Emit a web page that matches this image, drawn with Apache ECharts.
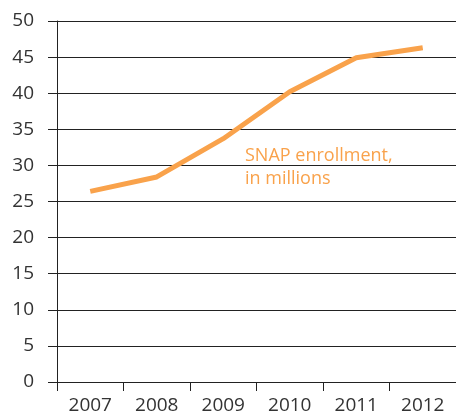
<!DOCTYPE html>
<html>
<head>
    <meta charset="utf-8">
    <title>SNAP enrollment</title>
    <script src="https://cdn.jsdelivr.net/npm/echarts@6/dist/echarts.min.js"></script>
    <style>
        html, body { margin: 0; padding: 0; background: #fff; }
    </style>
</head>
<body>
<div id="main" style="width: 456px;height:418px;"></div>
<script>
    // data
    var years = ['2007', '2008', '2009', '2010', '2011', '2012'];
    var enrollment = [26.4, 28.4, 33.7, 40.2, 44.9, 46.3];

    var font = 'Open Sans';

    var myChart = echarts.init(document.getElementById('main'));

    myChart.setOption({
        animation: false,
        grid: {
            left: 57,
            top: 21,
            width: 404,
            height: 361
        },
        title: {
            text: 'SNAP enrollment,\nin millions',
            left: 240,
            top: 139,
            textStyle: {
                color: '#F9A24B',
                fontFamily: font,
                fontSize: 18,
                fontWeight: 'normal',
                lineHeight: 23
            }
        },
        xAxis: {
            type: 'category',
            data: years,
            boundaryGap: true,
            axisLine: { lineStyle: { color: '#222', width: 1 } },
            axisTick: { show: true, length: 9, lineStyle: { color: '#222' } },
            axisLabel: {
                color: '#333',
                fontFamily: font,
                fontSize: 19,
                margin: 14
            }
        },
        yAxis: {
            type: 'value',
            min: 0,
            max: 50,
            interval: 5,
            axisLine: { show: true, lineStyle: { color: '#222', width: 1 } },
            axisTick: { show: true, length: 9, lineStyle: { color: '#222' } },
            axisLabel: {
                color: '#333',
                fontFamily: font,
                fontSize: 19,
                margin: 23
            },
            splitLine: { lineStyle: { color: '#222', width: 1 } }
        },
        series: [
            {
                name: 'SNAP enrollment',
                type: 'line',
                data: enrollment,
                showSymbol: false,
                lineStyle: { color: '#F9A24B', width: 5 },
                itemStyle: { color: '#F9A24B' }
            }
        ]
    });
</script>
</body>
</html>
